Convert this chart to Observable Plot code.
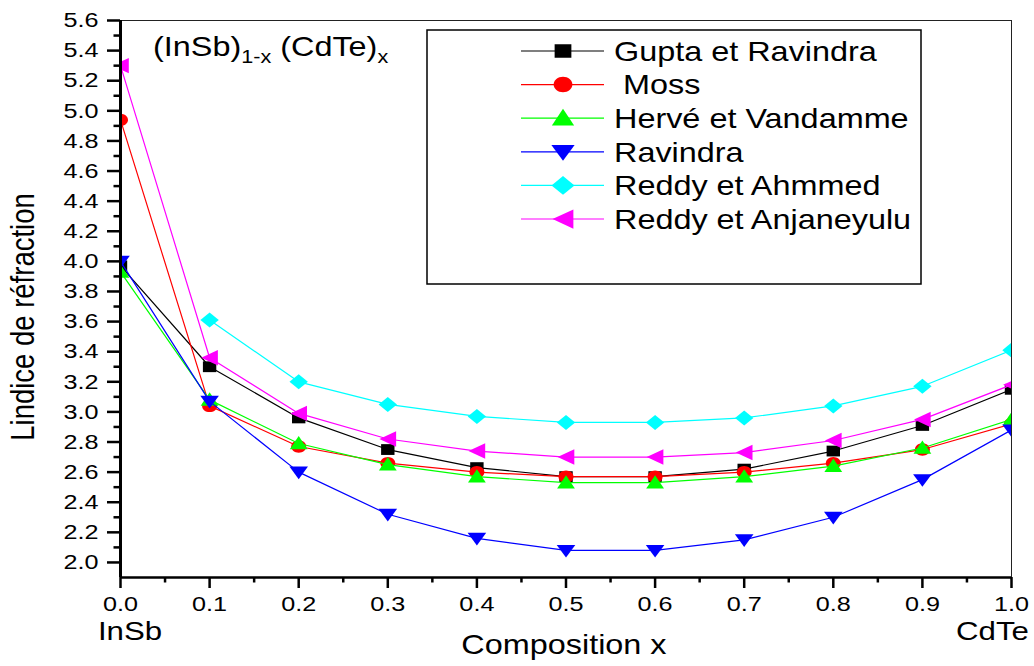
<!DOCTYPE html>
<html>
<head>
<meta charset="utf-8">
<script src="https://cdn.jsdelivr.net/npm/d3@7"></script>
<script src="https://cdn.jsdelivr.net/npm/@observablehq/plot@0.6"></script>
<style>
  html, body { margin: 0; padding: 0; background: #fff; }
  #chart { width: 1034px; height: 666px; }
</style>
</head>
<body>
<div id="chart"></div>
<script>
// Composition x of (InSb)1-x (CdTe)x
const compositions = [0, 0.1, 0.2, 0.3, 0.4, 0.5, 0.6, 0.7, 0.8, 0.9, 1.0];

// Refractive index per model
const gupta      = [3.97, 3.30, 2.96, 2.75, 2.63, 2.57, 2.57, 2.62, 2.74, 2.91, 3.15];
const moss       = [4.94, 3.04, 2.77, 2.66, 2.60, 2.57, 2.57, 2.60, 2.66, 2.75, 2.92];
const herve      = [3.93, 3.08, 2.79, 2.65, 2.57, 2.53, 2.53, 2.57, 2.64, 2.76, 2.95];
const ravindra   = [4.00, 3.07, 2.60, 2.32, 2.16, 2.08, 2.08, 2.15, 2.30, 2.55, 2.88];
const ahmmed     = [null, 3.61, 3.20, 3.05, 2.97, 2.93, 2.93, 2.96, 3.04, 3.17, 3.41];
const anjaneyulu = [5.30, 3.36, 2.99, 2.82, 2.74, 2.70, 2.70, 2.73, 2.81, 2.95, 3.18];

const seriesNames = ["Gupta et Ravindra", " Moss", "Hervé et Vandamme", "Ravindra", "Reddy et Ahmmed", "Reddy et Anjaneyulu"];
const seriesValues = [gupta, moss, herve, ravindra, ahmmed, anjaneyulu];
const seriesColors = ["#000000", "#ff0000", "#00ff00", "#0000ff", "#00ffff", "#ff00ff"];

// Axis ticks
const yTicks = d3.range(20, 57, 2).map(d => d / 10);
const yMinorTicks = d3.range(21, 56, 2).map(d => d / 10);
const xTicks = d3.range(0, 11).map(d => d / 10);
const xMinorTicks = d3.range(0, 10).map(d => d / 10 + 0.05);
const endLabels = [{x: 0, label: "InSb"}, {x: 1, label: "CdTe"}];
const xTitle = "Composition x";
const yTitle = "Lindice de réfraction";

// Marker shapes (slightly wider than tall); unit scale at r = 6
const unit = size => Math.sqrt(size / Math.PI) / 6;
function ellipse(ctx, rx, ry) {
  const k = 0.5523;
  ctx.moveTo(rx, 0);
  ctx.bezierCurveTo(rx, ry * k, rx * k, ry, 0, ry);
  ctx.bezierCurveTo(-rx * k, ry, -rx, ry * k, -rx, 0);
  ctx.bezierCurveTo(-rx, -ry * k, -rx * k, -ry, 0, -ry);
  ctx.bezierCurveTo(rx * k, -ry, rx, -ry * k, rx, 0);
  ctx.closePath();
}
function poly(ctx, pts) {
  ctx.moveTo(pts[0][0], pts[0][1]);
  for (const p of pts.slice(1)) ctx.lineTo(p[0], p[1]);
  ctx.closePath();
}
const markerShapes = [
  {draw(ctx, size) { const s = unit(size); ctx.rect(-6.7 * s, -5.4 * s, 13.4 * s, 10.8 * s); }},
  {draw(ctx, size) { const s = unit(size); ellipse(ctx, 7.5 * s, 6.2 * s); }},
  {draw(ctx, size) { const s = unit(size); poly(ctx, [[0, -7.5 * s], [8.9 * s, 5.8 * s], [-8.9 * s, 5.8 * s]]); }},
  {draw(ctx, size) { const s = unit(size); poly(ctx, [[0, 7.2 * s], [9.3 * s, -5.5 * s], [-9.3 * s, -5.5 * s]]); }},
  {draw(ctx, size) { const s = unit(size); poly(ctx, [[0, -7.5 * s], [9.2 * s, 0], [0, 7.5 * s], [-9.2 * s, 0]]); }},
  {draw(ctx, size) { const s = unit(size); poly(ctx, [[-8.4 * s, 0], [8.3 * s, -7.7 * s], [8.3 * s, 7.7 * s]]); }}
];

const rows = seriesNames.flatMap((name, i) =>
  compositions.map((x, j) => ({series: i, name, x, y: seriesValues[i][j]}))
);

const seriesMarks = seriesNames.flatMap((name, i) => {
  const data = rows.filter(d => d.series === i);
  return [
    Plot.line(data, {x: "x", y: "y", stroke: seriesColors[i], strokeWidth: 1.2, clip: true}),
    Plot.dot(data.filter(d => d.y != null), {x: "x", y: "y", symbol: markerShapes[i], r: 6, fill: seriesColors[i], stroke: "none", clip: true})
  ];
});

const chart = Plot.plot({
  width: 1034,
  height: 666,
  marginLeft: 120,
  marginRight: 23,
  marginTop: 20,
  marginBottom: 89,
  x: {domain: [0, 1]},
  y: {domain: [1.9, 5.6]},
  style: {fontFamily: "'Liberation Sans', Arial, sans-serif", color: "#000", background: "#fff", overflow: "visible"},
  marks: [
    Plot.frame({stroke: "#222", strokeWidth: 1}),
    ...seriesMarks,
    Plot.ruleX([0], {stroke: "#000", strokeWidth: 3}),
    Plot.ruleY([1.9], {stroke: "#000", strokeWidth: 2.5}),
    Plot.axisY(yTicks, {anchor: "left", tickSize: 13, tickPadding: 9, tickFormat: d3.format(".1f"), fontSize: 21, strokeWidth: 2.5, label: null}),
    Plot.axisY(yMinorTicks, {anchor: "left", tickSize: 6.5, tickFormat: () => "", strokeWidth: 2.5, label: null}),
    Plot.axisX(xTicks, {anchor: "bottom", tickSize: 11, tickPadding: 8, tickFormat: d3.format(".1f"), fontSize: 21, strokeWidth: 2.5, label: null}),
    Plot.axisX(xMinorTicks, {anchor: "bottom", tickSize: 5.5, tickFormat: () => "", strokeWidth: 2.5, label: null}),
    Plot.text(endLabels.slice(0, 1), {x: "x", text: "label", frameAnchor: "bottom", dy: 62, dx: 9.5, fontSize: 26}),
    Plot.text(endLabels.slice(1), {x: "x", text: "label", frameAnchor: "bottom", dy: 62, dx: -19, fontSize: 26}),
    Plot.text([xTitle], {frameAnchor: "bottom", dy: 76, dx: -2, fontSize: 27}),
    Plot.text([yTitle], {frameAnchor: "left", textAnchor: "middle", rotate: -90, dx: -97, dy: 18, fontSize: 27.5})
  ]
});

document.getElementById("chart").appendChild(chart);
const svg = d3.select(chart);

// Compound formula in the upper left corner
const formula = svg.append("text")
  .attr("x", 153).attr("y", 56)
  .attr("text-anchor", "start")
  .attr("font-size", 27)
  .attr("fill", "#000");
formula.append("tspan").text("(InSb)");
formula.append("tspan").attr("font-size", 18).attr("dy", 7).text("1-x");
formula.append("tspan").attr("dy", -7).text("\u00a0(CdTe)");
formula.append("tspan").attr("font-size", 18).attr("dy", 7).text("x");

// Legend box
const legend = svg.append("g").attr("text-anchor", "start");
legend.append("rect")
  .attr("x", 427).attr("y", 30).attr("width", 494).attr("height", 254)
  .attr("fill", "#fff").attr("stroke", "#000").attr("stroke-width", 1.5);
seriesNames.forEach((name, i) => {
  const cy = 51 + i * 33.6;
  const row = legend.append("g").attr("transform", `translate(0,${cy})`);
  row.append("line").attr("x1", 521).attr("x2", 604).attr("y1", 0).attr("y2", 0)
    .attr("stroke", seriesColors[i]).attr("stroke-width", 1.2);
  row.append("path")
    .attr("transform", "translate(563,0)")
    .attr("d", d3.symbol().type(markerShapes[i]).size(Math.PI * 7.5 * 7.5)())
    .attr("fill", seriesColors[i]);
  row.append("text")
    .attr("x", 614).attr("y", 0).attr("dy", "0.36em")
    .attr("text-anchor", "start")
    .attr("font-size", 27).attr("fill", "#000")
    .style("white-space", "pre")
    .text(name);
});

// Widen all lettering horizontally, anchored at each label's own alignment point
const widen = 1.2;
chart.querySelectorAll("text").forEach(t => {
  const bb = t.getBBox();
  if (!bb.width) return;
  const anchor = getComputedStyle(t).textAnchor;
  const px = anchor === "end" ? bb.x + bb.width : anchor === "middle" ? bb.x + bb.width / 2 : bb.x;
  const tr = t.getAttribute("transform") || "";
  if (/rotate/.test(tr)) {
    t.setAttribute("transform", tr.replace("rotate", `scale(${widen},1) rotate`));
  } else {
    t.setAttribute("transform", `${tr} translate(${px},0) scale(${widen},1) translate(${-px},0)`);
  }
});
</script>
</body>
</html>
